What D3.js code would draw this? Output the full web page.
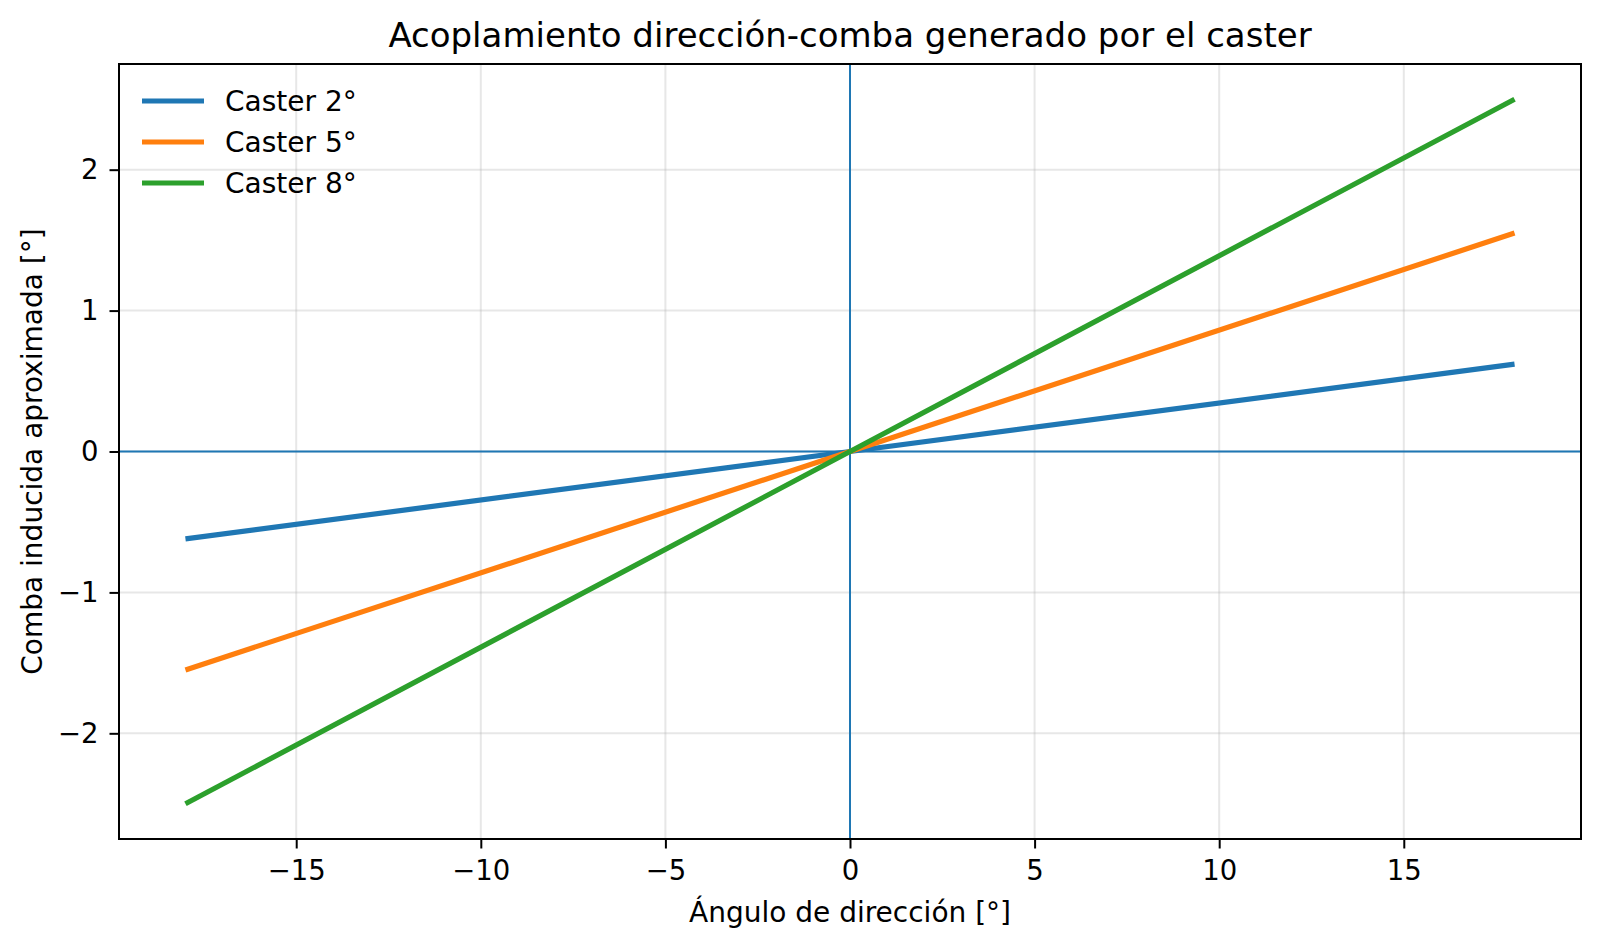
<!DOCTYPE html>
<html>
<head>
<meta charset="utf-8">
<script src="https://cdn.jsdelivr.net/npm/d3@7"></script>
<style>
  body { margin: 0; background: #fff; }
  svg text { font-family: "DejaVu Sans", sans-serif; fill: #000; }
</style>
</head>
<body>
<div id="chart"></div>
<script>
// steering angle samples and induced camber per caster angle
const steerAngles = [-18, 0, 18];
const caster2 = [-0.62, 0, 0.62];
const caster5 = [-1.55, 0, 1.55];
const caster8 = [-2.5, 0, 2.5];
const seriesNames = ["Caster 2°", "Caster 5°", "Caster 8°"];
const seriesColors = ["#1f77b4", "#ff7f0e", "#2ca02c"];
const xTicks = [-15, -10, -5, 0, 5, 10, 15];
const yTicks = [-2, -1, 0, 1, 2];

let width = 1600;
let height = 949;
let margin = { left: 119, right: 19, top: 64, bottom: 110 };
let w = width - margin.left - margin.right;
let h = height - margin.top - margin.bottom;

let svg = d3
  .select("#chart")
  .append("svg")
  .attr("width", width)
  .attr("height", height);

let g = svg
  .append("g")
  .attr("transform", `translate(${margin.left}, ${margin.top})`);

let xScale = d3.scaleLinear().domain([-19.8, 19.8]).range([0, w]);
let yScale = d3.scaleLinear().domain([-2.75, 2.75]).range([h, 0]);

let fmt = (d) => (d < 0 ? "\u2212" + Math.abs(d) : String(d));

// grid
g.append("g")
  .selectAll("line")
  .data(xTicks)
  .enter()
  .append("line")
  .attr("x1", (d) => xScale(d))
  .attr("x2", (d) => xScale(d))
  .attr("y1", 0)
  .attr("y2", h)
  .attr("stroke", "#b0b0b0")
  .attr("stroke-opacity", 0.3)
  .attr("stroke-width", 2);

g.append("g")
  .selectAll("line")
  .data(yTicks)
  .enter()
  .append("line")
  .attr("y1", (d) => yScale(d))
  .attr("y2", (d) => yScale(d))
  .attr("x1", 0)
  .attr("x2", w)
  .attr("stroke", "#b0b0b0")
  .attr("stroke-opacity", 0.3)
  .attr("stroke-width", 2);

// zero reference lines
g.append("line")
  .attr("x1", 0)
  .attr("x2", w)
  .attr("y1", yScale(0))
  .attr("y2", yScale(0))
  .attr("stroke", "#1f77b4")
  .attr("stroke-width", 2);

g.append("line")
  .attr("x1", xScale(0))
  .attr("x2", xScale(0))
  .attr("y1", 0)
  .attr("y2", h)
  .attr("stroke", "#1f77b4")
  .attr("stroke-width", 2);

// series
let series = [caster2, caster5, caster8];
let line = d3
  .line()
  .x((d) => xScale(d[0]))
  .y((d) => yScale(d[1]));

series.forEach((vals, i) => {
  g.append("path")
    .datum(steerAngles.map((x, j) => [x, vals[j]]))
    .attr("fill", "none")
    .attr("stroke", seriesColors[i])
    .attr("stroke-width", 5.2)
    .attr("d", line);
});

// axes
g.append("g")
  .attr("transform", `translate(0, ${h})`)
  .call(d3.axisBottom(xScale).tickValues(xTicks).tickSize(9.5).tickPadding(12).tickFormat(fmt))
  .call((a) => a.select(".domain").remove())
  .call((a) => a.selectAll("line").attr("stroke-width", 2))
  .call((a) => a.selectAll("text").attr("font-size", 27.5).attr("font-family", "DejaVu Sans"));

g.append("g")
  .call(d3.axisLeft(yScale).tickValues(yTicks).tickSize(9.5).tickPadding(11).tickFormat(fmt))
  .call((a) => a.select(".domain").remove())
  .call((a) => a.selectAll("line").attr("stroke-width", 2))
  .call((a) => a.selectAll("text").attr("font-size", 27.5).attr("font-family", "DejaVu Sans"));

// frame
g.append("rect")
  .attr("x", 0)
  .attr("y", 0)
  .attr("width", w)
  .attr("height", h)
  .attr("fill", "none")
  .attr("stroke", "#000")
  .attr("stroke-width", 2);

// title and labels
svg.append("text")
  .attr("x", margin.left + w / 2)
  .attr("y", 47)
  .attr("text-anchor", "middle")
  .attr("font-size", 34)
  .text("Acoplamiento dirección-comba generado por el caster");

svg.append("text")
  .attr("x", margin.left + w / 2)
  .attr("y", 922)
  .attr("text-anchor", "middle")
  .attr("font-size", 28)
  .text("Ángulo de dirección [°]");

svg.append("text")
  .attr("transform", `translate(42, ${margin.top + h / 2}) rotate(-90)`)
  .attr("text-anchor", "middle")
  .attr("font-size", 28)
  .text("Comba inducida aproximada [°]");

// legend
let legend = g
  .append("g")
  .selectAll("g")
  .data(seriesNames)
  .enter()
  .append("g")
  .attr("transform", (d, i) => `translate(0, ${37 + i * 41})`);

legend
  .append("line")
  .attr("x1", 23)
  .attr("x2", 85)
  .attr("stroke", (d, i) => seriesColors[i])
  .attr("stroke-width", 5.2);

legend
  .append("text")
  .attr("x", 106)
  .attr("y", 10)
  .attr("font-size", 28)
  .text((d) => d);
</script>
</body>
</html>
